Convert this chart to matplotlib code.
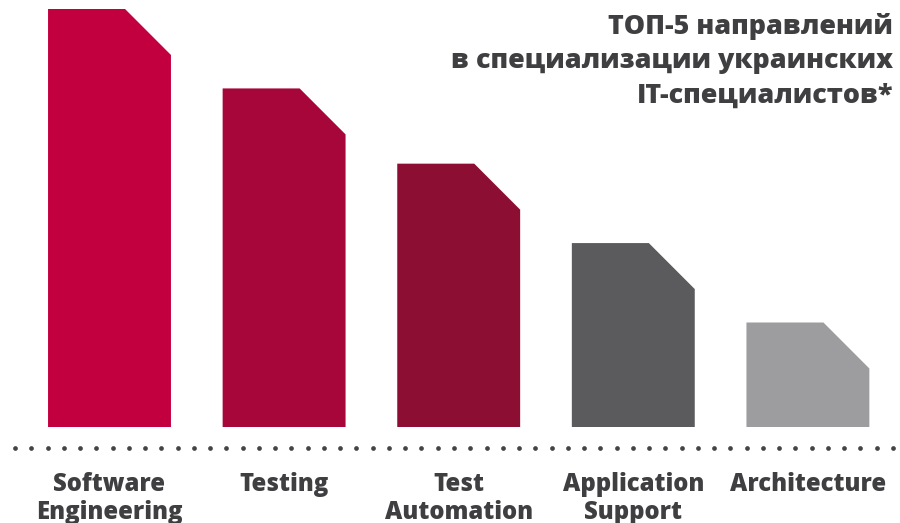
import numpy as np
import matplotlib.pyplot as plt
from matplotlib.lines import Line2D
from matplotlib.transforms import blended_transform_factory

plt.rcParams['font.family'] = ['Open Sans', 'DejaVu Sans']

# data
categories = ["Software\nEngineering", "Testing", "Test\nAutomation",
              "Application\nSupport", "Architecture"]
values = [100, 81, 63, 44, 25]
colors = ["#C3003F", "#A6063A", "#8C0E33", "#5B5B5D", "#9D9D9F"]
title = "ТОП-5 направлений\nв специализации украинских\nIT-специалистов*"

W, H = 900, 523
fig = plt.figure(figsize=(W / 100, H / 100), dpi=100)

# axes placed so that bars land where they are in the reference
ax = fig.add_axes([22.2 / W, (H - 427) / H, 873 / W, 418 / H])
ax.set_xlim(-0.5, 4.5)
ax.set_ylim(0, 100)
ax.axis('off')

bw = 0.704          # bar width in category units
cx = 0.263          # chamfer width (x units)
cy = 11.0           # chamfer height (y units)

for i, (v, c) in enumerate(zip(values, colors)):
    x0, x1 = i - bw / 2, i + bw / 2
    xs = [x0, x0, x1 - cx, x1, x1]
    ys = [0, v, v, v - cy, 0]
    ax.fill(xs, ys, color=c, lw=0)

# dotted baseline
dots_x = np.linspace(15, 893, 55) / W
fig.add_artist(Line2D(dots_x, np.full_like(dots_x, (H - 448) / H),
                      ls='none', marker='o', ms=3.4, color='#444446',
                      mec='none'))

trans = blended_transform_factory(ax.transData, fig.transFigure)
for i, lab in enumerate(categories):
    ax.text(i, (H - 472) / H, lab, transform=trans, ha='center', va='top',
            fontsize=17.2, fontweight='heavy', color='#3F3F41',
            linespacing=1.15)

fig.text(893 / W, (H - 13) / H, title, ha='right', va='top',
         fontsize=19.4, fontweight='heavy', color='#3F3F41',
         linespacing=1.42)

fig.savefig('out.png', dpi=100)
